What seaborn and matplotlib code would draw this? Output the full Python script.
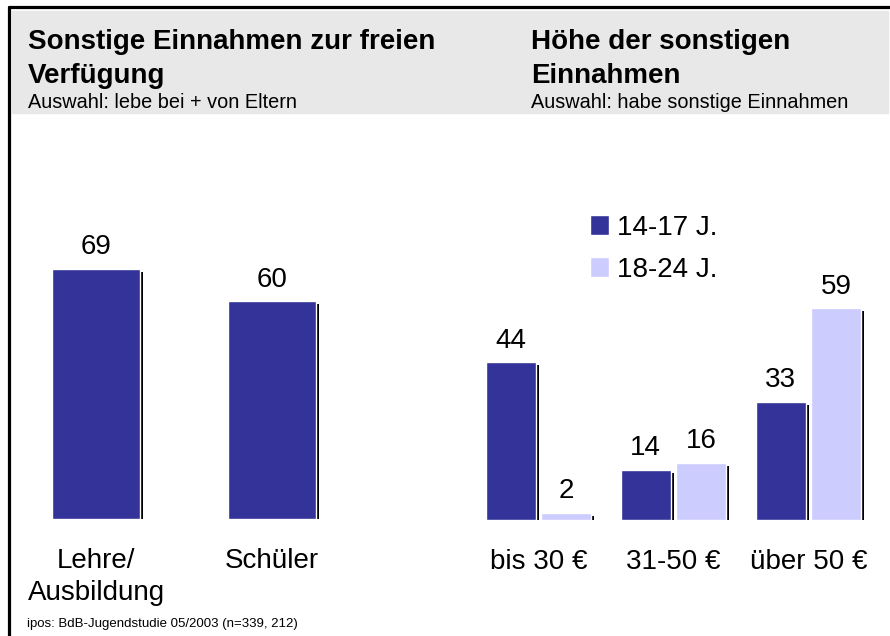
import matplotlib
matplotlib.use("Agg")
import matplotlib.pyplot as plt
import matplotlib.patheffects as pe
from matplotlib.patches import Rectangle
from matplotlib.lines import Line2D
import seaborn as sns
import pandas as pd

# ---------- data ----------
left_labels = ["Lehre/\nAusbildung", "Schüler"]
left_values = [69, 60]

right_labels = ["bis 30 €", "31-50 €", "über 50 €"]
age_groups = ["14-17 J.", "18-24 J."]
values_1417 = [44, 14, 33]
values_1824 = [2, 16, 59]

dark = "#333399"
light = "#ccccff"

sns.set_style("white")
plt.rcParams["font.family"] = ["Liberation Sans", "DejaVu Sans"]
plt.rcParams["text.color"] = "black"
plt.rcParams["xtick.color"] = "black"

W, H = 890, 636
fig = plt.figure(figsize=(W / 100, H / 100), dpi=100)


def fx(px):
    return px / W


def fy(py):
    return 1 - py / H


# frame + header band
fig.add_artist(Rectangle((fx(12), fy(113)), fx(876), (113 - 11) / H,
                         transform=fig.transFigure, color="#e8e8e8", zorder=0))
fig.add_artist(Line2D([fx(8.5), 1], [fy(6.5), fy(6.5)], transform=fig.transFigure,
                      color="black", lw=2.3))
fig.add_artist(Line2D([fx(8.5), fx(8.5)], [0, fy(6.5)], transform=fig.transFigure,
                      color="black", lw=2.3))

# titles
title_kw = dict(fontsize=20, fontweight="bold", va="baseline")
sub_kw = dict(fontsize=14.3, va="baseline")
fig.text(fx(28), fy(49), "Sonstige Einnahmen zur freien", **title_kw)
fig.text(fx(28), fy(83), "Verfügung", **title_kw)
fig.text(fx(28), fy(108), "Auswahl: lebe bei + von Eltern", **sub_kw)
fig.text(fx(531), fy(49), "Höhe der sonstigen", **title_kw)
fig.text(fx(531), fy(83), "Einnahmen", **title_kw)
fig.text(fx(531), fy(108), "Auswahl: habe sonstige Einnahmen", **sub_kw)
fig.text(fx(27), fy(627), "ipos: BdB-Jugendstudie 05/2003 (n=339, 212)",
         fontsize=9.5, va="baseline")

shadow = [pe.SimplePatchShadow(offset=(2.2, -2.2), shadow_rgbFace="black", alpha=1),
          pe.Normal()]

# ---------- left chart ----------
ax1 = fig.add_axes([fx(8), fy(519), fx(352), 363 / H])
df_left = pd.DataFrame({"gruppe": left_labels, "anteil": left_values})
sns.barplot(data=df_left, x="gruppe", y="anteil", color=dark, saturation=1,
            width=0.5, ax=ax1)

# ---------- right chart ----------
ax2 = fig.add_axes([fx(471), fy(520), fx(405), 359 / H])
df_right = pd.DataFrame({
    "betrag": right_labels * 2,
    "alter": [age_groups[0]] * 3 + [age_groups[1]] * 3,
    "anteil": values_1417 + values_1824,
})
sns.barplot(data=df_right, x="betrag", y="anteil", hue="alter",
            palette=[dark, light], saturation=1, width=0.82, gap=0.09, ax=ax2)

for ax in (ax1, ax2):
    ax.set_ylim(0, 100)
    ax.set_facecolor("none")
    ax.set_xlabel("")
    ax.set_ylabel("")
    ax.set_yticks([])
    ax.tick_params(axis="x", length=0, pad=21, labelsize=20)
    for t in ax.get_xticklabels():
        t.set_linespacing(1.28)
    sns.despine(ax=ax, left=True, bottom=True)
    for p in ax.patches:
        p.set_path_effects(shadow)
    for c in ax.containers:
        ax.bar_label(c, padding=6, fontsize=20)

handles, labels = ax2.get_legend_handles_labels()
leg = ax2.legend(handles, labels, loc="upper left", bbox_to_anchor=(fx(590), fy(215)),
                 bbox_transform=fig.transFigure, frameon=False, fontsize=20,
                 handlelength=0.68, handleheight=0.72, handletextpad=0.29,
                 labelspacing=0.57, borderpad=0, borderaxespad=0)
for p in leg.get_patches():
    p.set_path_effects([])

fig.savefig("out.png", dpi=100)
